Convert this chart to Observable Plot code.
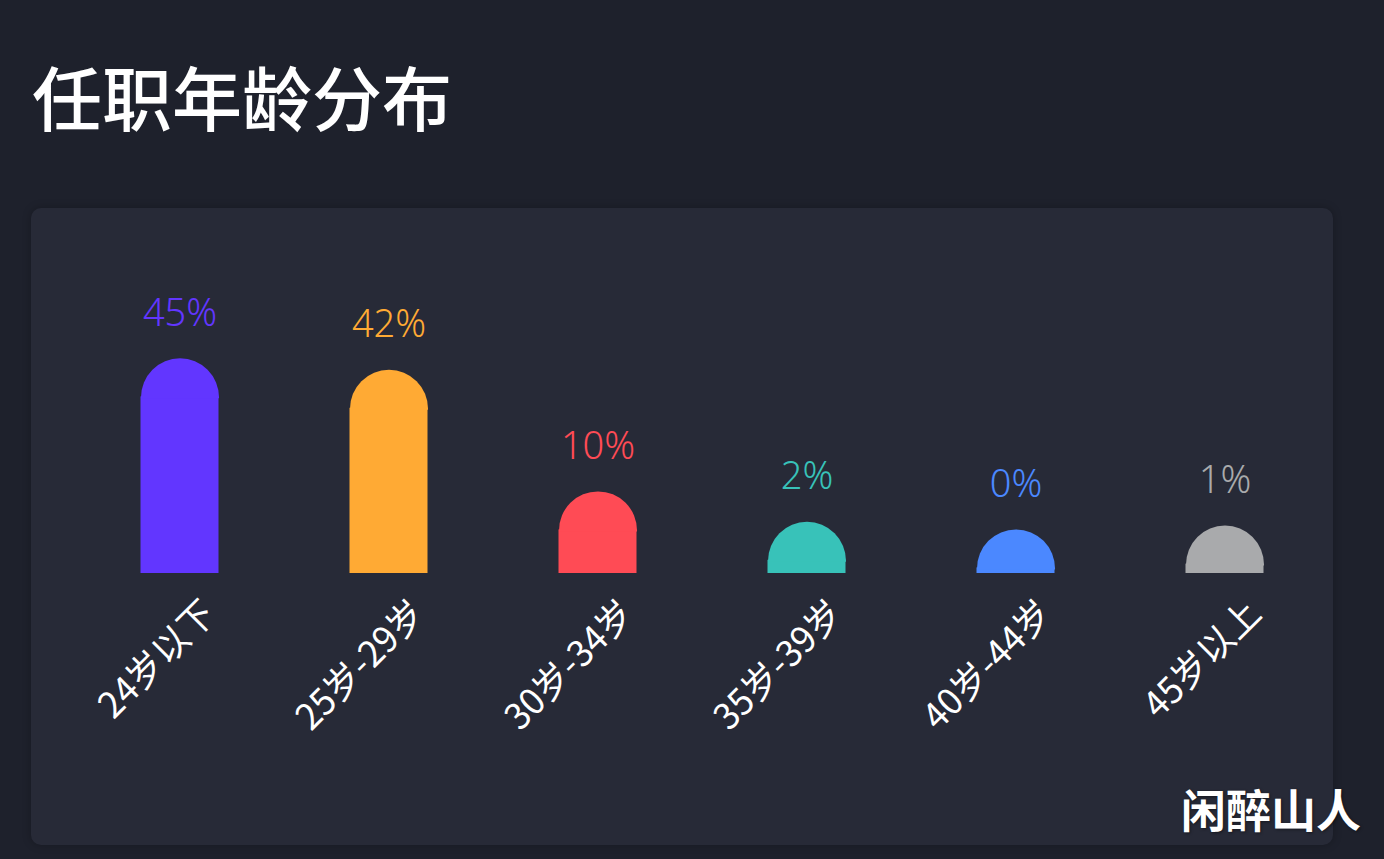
<!DOCTYPE html>
<html>
<head>
<meta charset="utf-8">
<script src="https://cdn.jsdelivr.net/npm/d3@7"></script>
<script src="https://cdn.jsdelivr.net/npm/@observablehq/plot@0.6"></script>
<style>
  html, body { margin: 0; padding: 0; width: 1384px; height: 859px; overflow: hidden; background: #1e212c; }
  #title { position: absolute; left: 32px; top: 61px; margin: 0; font: 500 70px/1 "Noto Sans CJK SC", sans-serif; color: #ffffff; white-space: nowrap; }
  #panel { position: absolute; left: 31px; top: 208px; width: 1302px; height: 637px; background: #272a37; border-radius: 10px; box-shadow: 0 0 8px rgba(0,0,0,0.25); }
  #panel svg { position: absolute; left: 0; top: 0; }
  #mark { position: absolute; left: 1181px; top: 786px; font: 700 45px/1 "Noto Sans CJK SC", sans-serif; color: #ffffff; white-space: nowrap; text-shadow: 1px 1px 3px rgba(0,0,0,0.45); }
</style>
</head>
<body>
<h1 id="title">任职年龄分布</h1>
<div id="panel"></div>
<div id="mark">闲醉山人</div>
<script>
// ---- data ----
const categories = ["24岁以下", "25岁-29岁", "30岁-34岁", "35岁-39岁", "40岁-44岁", "45岁以上"];
const values = [45, 42, 10, 2, 0, 1];
const valueLabels = ["45%", "42%", "10%", "2%", "0%", "1%"];
const colors = ["#6236ff", "#ffaa34", "#ff4b55", "#38c2b9", "#4b88ff", "#a9aaac"];

const yMin = -11.6;   // axis floor (bars start below zero)
const yMax = 73.9;

const data = categories.map((c, i) => ({cat: c, value: values[i], label: valueLabels[i], color: colors[i]}));

// semicircle cap: top of the shape sits at the anchor point
const capSymbol = {
  draw(context, size) {
    const r = Math.sqrt(size / Math.PI);
    context.moveTo(-r, r);
    context.arc(0, r, r, Math.PI, 2 * Math.PI);
    context.lineTo(r, r + 1);
    context.lineTo(-r, r + 1);
    context.closePath();
  }
};

const chart = Plot.plot({
  width: 1302,
  height: 637,
  marginTop: 40,
  marginBottom: 272,
  marginLeft: 44,
  marginRight: 4,
  style: {background: "transparent", color: "#ffffff", fontFamily: "'Noto Sans CJK SC', sans-serif", overflow: "visible"},
  x: {domain: categories, padding: 0, axis: null},
  y: {domain: [yMin, yMax], axis: null},
  color: {type: "identity"},
  marks: [
    Plot.barY(data, {x: "cat", y1: () => yMin, y2: "value", fill: "color", insetLeft: 65.5, insetRight: 65.5, insetTop: 38.5}),
    Plot.dot(data, {x: "cat", y: "value", r: 39, symbol: capSymbol, fill: "color", stroke: null}),
    Plot.text(data, {x: "cat", y: "value", text: "label", fill: "color", dy: -45, fontSize: 38, fontWeight: 300, fontFamily: "'Noto Sans', sans-serif", lineAnchor: "middle"}),
    Plot.axisX({label: null, tickRotate: -45, tickSize: 0, tickPadding: 0, fontSize: 36, fill: "#ffffff", textAnchor: "end", lineAnchor: "middle", dx: 30, dy: 34, fontFamily: "'Noto Sans CJK SC', sans-serif"})
  ]
});
document.getElementById("panel").appendChild(chart);
</script>
</body>
</html>
